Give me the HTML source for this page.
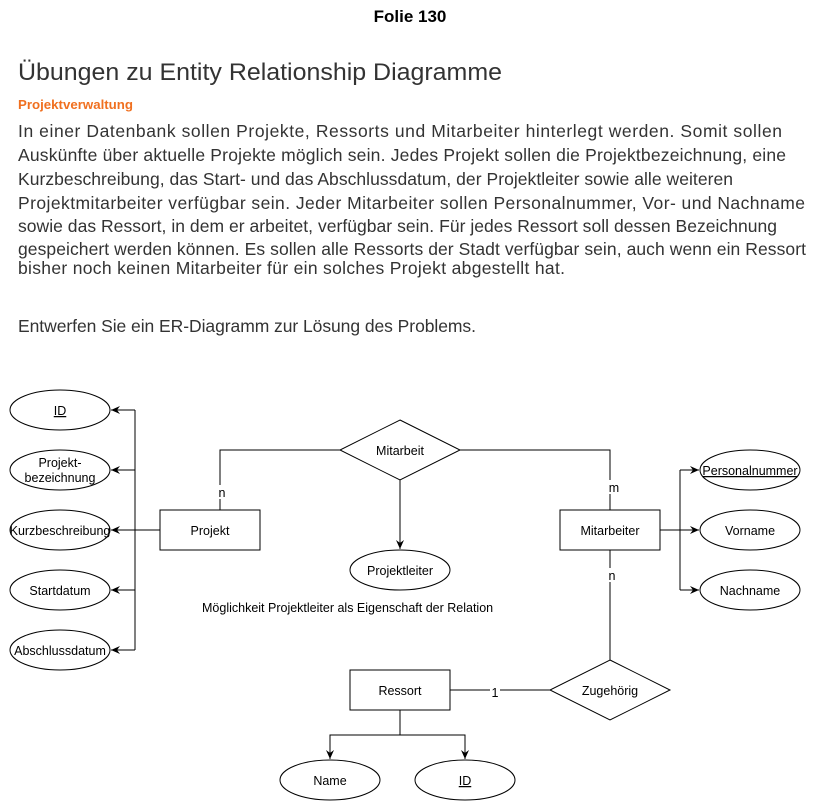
<!DOCTYPE html>
<html><head><meta charset="utf-8"><style>body{margin:0;background:#fff}svg{display:block}</style></head>
<body>
<svg width="820" height="801" xmlns="http://www.w3.org/2000/svg" font-family="Liberation Sans, sans-serif">
<defs><marker id="a" markerWidth="10" markerHeight="10" refX="9" refY="5" orient="auto" markerUnits="userSpaceOnUse"><path d="M0,1 L9,5 L0,9 L3,5 Z" fill="#000"/></marker></defs>
<text x="410" y="22" font-size="17" font-weight="bold" text-anchor="middle">Folie 130</text>
<g fill="#333">
<text x="18" y="80" font-size="24" textLength="484" lengthAdjust="spacingAndGlyphs">Übungen zu Entity Relationship Diagramme</text>
<text x="18" y="109" font-size="13" font-weight="bold" fill="#f07020" textLength="115" lengthAdjust="spacingAndGlyphs">Projektverwaltung</text>
<g font-size="17.5" lengthAdjust="spacingAndGlyphs">
<text x="18" y="137" textLength="764">In einer Datenbank sollen Projekte, Ressorts und Mitarbeiter hinterlegt werden. Somit sollen</text>
<text x="18" y="161" textLength="768">Auskünfte über aktuelle Projekte möglich sein. Jedes Projekt sollen die Projektbezeichnung, eine</text>
<text x="18" y="185" textLength="715">Kurzbeschreibung, das Start- und das Abschlussdatum, der Projektleiter sowie alle weiteren</text>
<text x="18" y="209" textLength="787">Projektmitarbeiter verfügbar sein. Jeder Mitarbeiter sollen Personalnummer, Vor- und Nachname</text>
<text x="18" y="232" textLength="759">sowie das Ressort, in dem er arbeitet, verfügbar sein. Für jedes Ressort soll dessen Bezeichnung</text>
<text x="18" y="255" textLength="788">gespeichert werden können. Es sollen alle Ressorts der Stadt verfügbar sein, auch wenn ein Ressort</text>
<text x="18" y="274" textLength="547">bisher noch keinen Mitarbeiter für ein solches Projekt abgestellt hat.</text>
<text x="18" y="332" textLength="458">Entwerfen Sie ein ER-Diagramm zur Lösung des Problems.</text>
</g></g>
<g fill="none" stroke="#000" stroke-width="1">
<ellipse cx="60" cy="410" rx="50" ry="20"/><ellipse cx="60" cy="470" rx="50" ry="20"/><ellipse cx="60" cy="530" rx="50" ry="20"/><ellipse cx="60" cy="590" rx="50" ry="20"/><ellipse cx="60" cy="650" rx="50" ry="20"/>
<path d="M135,410V650"/>
<path d="M135,410H111" marker-end="url(#a)"/><path d="M135,470H111" marker-end="url(#a)"/><path d="M160,530H111" marker-end="url(#a)"/><path d="M135,590H111" marker-end="url(#a)"/><path d="M135,650H111" marker-end="url(#a)"/>
<rect x="160" y="510" width="100" height="40"/>
<polygon points="400,420 460,450 400,480 340,450"/>
<path d="M340,450H220V510"/><path d="M460,450H610V510"/>
<path d="M400,480V549" marker-end="url(#a)"/>
<ellipse cx="400" cy="570" rx="50" ry="20"/>
<rect x="560" y="510" width="100" height="40"/>
<path d="M680,470V590"/><path d="M680,470H699" marker-end="url(#a)"/><path d="M660,530H699" marker-end="url(#a)"/><path d="M680,590H699" marker-end="url(#a)"/>
<ellipse cx="750" cy="470" rx="50" ry="20"/><ellipse cx="750" cy="530" rx="50" ry="20"/><ellipse cx="750" cy="590" rx="50" ry="20"/>
<path d="M610,550V660"/>
<polygon points="610,660 670,690 610,720 550,690"/>
<path d="M550,690H450"/>
<rect x="350" y="670" width="100" height="40"/>
<path d="M400,710V735H330V759" marker-end="url(#a)"/><path d="M400,735H465V759" marker-end="url(#a)"/>
<ellipse cx="330" cy="780" rx="50" ry="20"/><ellipse cx="465" cy="780" rx="50" ry="20"/>
</g>
<g font-size="12.5" text-anchor="middle">
<rect x="216" y="485" width="10" height="14" fill="#fff"/><text x="222" y="497">n</text>
<rect x="608" y="480" width="12" height="14" fill="#fff"/><text x="614" y="492">m</text>
<rect x="606" y="568" width="10" height="14" fill="#fff"/><text x="612" y="580">n</text>
<rect x="490" y="686" width="10" height="14" fill="#fff"/><text x="495" y="697">1</text>
<text x="60" y="415" text-decoration="underline">ID</text>
<text x="60" y="467">Projekt-</text><text x="60" y="482">bezeichnung</text>
<text x="60" y="535">Kurzbeschreibung</text>
<text x="60" y="595">Startdatum</text>
<text x="60" y="655">Abschlussdatum</text>
<text x="210" y="535">Projekt</text>
<text x="400" y="455">Mitarbeit</text>
<text x="400" y="575">Projektleiter</text>
<text x="610" y="535">Mitarbeiter</text>
<text x="750" y="475" text-decoration="underline">Personalnummer</text>
<text x="750" y="535">Vorname</text>
<text x="750" y="595">Nachname</text>
<text x="610" y="695">Zugehörig</text>
<text x="400" y="695">Ressort</text>
<text x="330" y="785">Name</text>
<text x="465" y="785" text-decoration="underline">ID</text>
<text x="202" y="612" text-anchor="start">Möglichkeit Projektleiter als Eigenschaft der Relation</text>
</g>
</svg>
</body></html>
